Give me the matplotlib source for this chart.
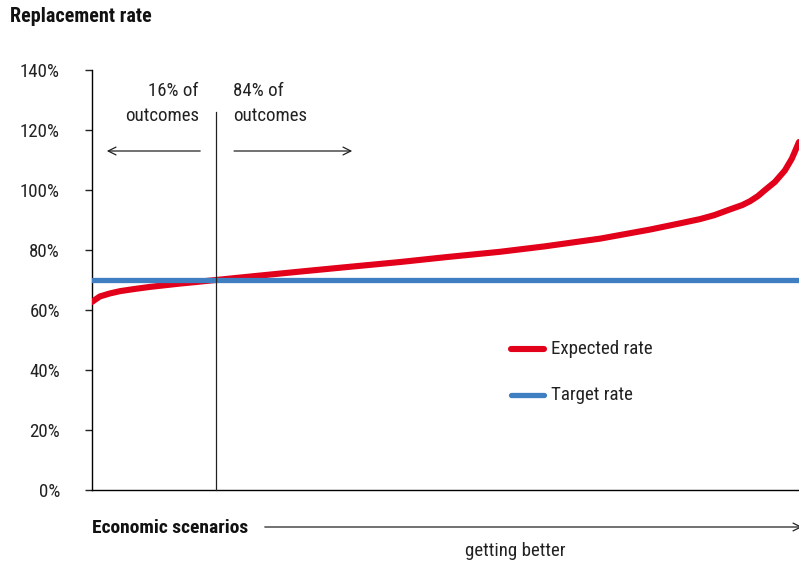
import matplotlib
matplotlib.use("Agg")
import matplotlib.pyplot as plt
import numpy as np

plt.rcParams['font.family'] = ['Roboto Condensed', 'Roboto', 'DejaVu Sans']

# Data (scenario percentile 0..100, expected replacement rate %)
scenario_pct = [0, 1.1, 2.5, 4, 6, 8.2, 10.5, 12.4, 15, 17.5, 23, 29.4, 36, 43.6, 50,
                57.7, 64, 71.9, 78.9, 83, 86, 88, 90.2, 92, 93.1, 94.2, 95.2, 96.6, 98, 99, 100]
expected_rate = [62.7, 64.5, 65.5, 66.3, 67.0, 67.7, 68.3, 68.8, 69.4, 70.0, 71.3, 72.8, 74.3, 76.0, 77.6,
                 79.4, 81.2, 83.8, 86.8, 88.8, 90.3, 91.6, 93.5, 95.0, 96.3, 98.0, 100.0, 102.7, 106.5, 110.5, 116.0]
target_rate = 70
yticks = [0, 20, 40, 60, 80, 100, 120, 140]
ytick_labels = ["0%", "20%", "40%", "60%", "80%", "100%", "120%", "140%"]
split_pct = 17.5

red = "#E2001A"
blue = "#3F7EC1"
fs = 13.6

fig = plt.figure(figsize=(7.99, 5.66), dpi=100)
ax = fig.add_axes([92/799, 76/566, 707/799, 420/566])

ax.plot(scenario_pct, expected_rate, color=red, lw=4.4, solid_capstyle='round', zorder=3, label="Expected rate")
ax.axhline(target_rate, color=blue, lw=3.8, zorder=4, label="Target rate")
ax.plot([split_pct, split_pct], [0, 126], color="#222222", lw=0.9, zorder=5, clip_on=False)

ax.set_xlim(0, 100)
ax.set_ylim(0, 140)
ax.set_yticks(yticks)
ax.set_yticklabels(ytick_labels)
ax.set_xticks([])
for s in ["top", "right"]:
    ax.spines[s].set_visible(False)
ax.spines["left"].set_linewidth(1.0)
ax.spines["bottom"].set_linewidth(1.0)
ax.tick_params(axis='y', length=5, width=1.0, pad=18, labelsize=fs, colors="#222222")
for lbl in ax.get_yticklabels():
    lbl.set_horizontalalignment('right')

# annotations
ax.text(15.1, 133, "16% of", ha='right', va='center', fontsize=fs, color="#222222")
ax.text(15.1, 124.7, "outcomes", ha='right', va='center', fontsize=fs, color="#222222")
ax.text(20.0, 133, "84% of", ha='left', va='center', fontsize=fs, color="#222222")
ax.text(20.0, 124.7, "outcomes", ha='left', va='center', fontsize=fs, color="#222222")
ax.annotate("", xy=(1.7, 113), xytext=(15.7, 113),
            arrowprops=dict(arrowstyle="->", color="#222222", lw=0.9, mutation_scale=14))
ax.annotate("", xy=(37.2, 113), xytext=(19.7, 113),
            arrowprops=dict(arrowstyle="->", color="#222222", lw=0.9, mutation_scale=14))

# legend (manual)
ax.plot([59.3, 64.0], [47, 47], color=red, lw=4.4, solid_capstyle='round')
ax.text(64.9, 47, "Expected rate", ha='left', va='center', fontsize=fs, color="#222222")
ax.plot([59.3, 64.0], [31.7, 31.7], color=blue, lw=3.8, solid_capstyle='round')
ax.text(64.9, 31.7, "Target rate", ha='left', va='center', fontsize=fs, color="#222222")

# title
fig.text(10/799, 1 - 17/566, "Replacement rate", ha='left', va='center', fontsize=14.5,
         fontweight='bold', color="#111111")
# bottom
fig.text(92/799, 1 - 528/566, "Economic scenarios", ha='left', va='center', fontsize=14,
         fontweight='bold', color="#111111")
fig.add_artist(matplotlib.patches.FancyArrowPatch((262/799, 1 - 527/566), (805/799, 1 - 527/566),
               transform=fig.transFigure, arrowstyle="->", color="#222222", lw=0.9, mutation_scale=14))
fig.text(515/799, 1 - 551/566, "getting better", ha='center', va='center', fontsize=fs, color="#222222")

fig.savefig("out.png", dpi=100)
